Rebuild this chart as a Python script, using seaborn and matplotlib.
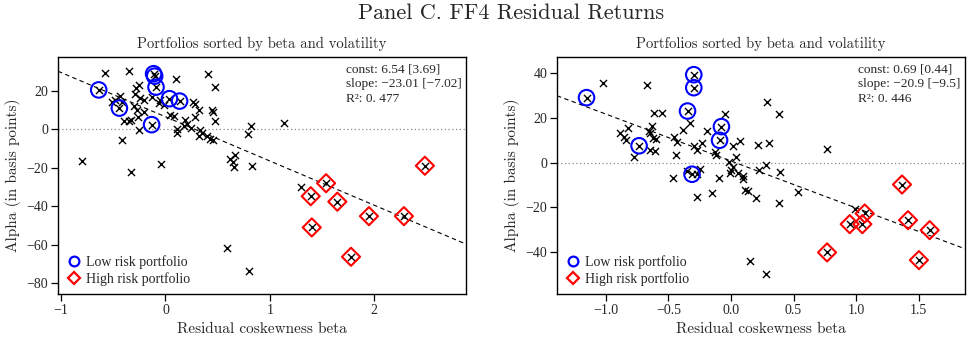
import numpy as np
import pandas as pd
import matplotlib
matplotlib.use("Agg")
import matplotlib.pyplot as plt
import seaborn as sns
from matplotlib.lines import Line2D

# ---------------- Left panel: residual coskewness beta vs alpha ----------------
left_x = [-0.583, -0.349, 0.103, 0.412, 0.477, -0.257, -0.279, -0.289, -0.241, -0.210,
          -0.439, -0.480, -0.512, -0.416, -0.129, -0.050, -0.066, -0.018, -0.299, -0.273,
          -0.210, -0.267, -0.327, -0.401, -0.353, -0.257, 0.046, 0.078, 0.110, 0.110,
          -0.416, 0.263, 0.285, 0.317, 0.445, 0.460, 0.285, 0.477, 0.189, 0.206,
          0.173, 0.244, 0.333, 0.349, 0.317, 0.397, 0.429, 0.455, 0.816, 0.788,
          1.137, 0.828, 1.297, -0.799, -0.327, -0.040, 0.620, 0.668, 0.646, 0.652,
          0.589, 0.805]
left_y = [29.35, 30.13, 26.13, 28.94, 22.18, 22.86, 21.66, 18.55, 16.47, 15.43,
          17.14, 15.43, 14.18, 14.18, 16.78, 15.43, 13.66, 12.47, 11.95, 9.87,
          8.99, 6.39, 4.68, 4.16, 4.16, -0.16, 7.27, 6.75, 0.16, -2.08,
          -5.35, 14.18, 12.99, 9.87, 10.23, 8.99, 6.23, 4.42, 4.68, 2.96,
          1.56, 0.52, -0.52, -1.92, -3.64, -3.38, -4.83, -5.71, 1.56, -2.44,
          3.48, -18.96, -29.87, -16.62, -22.34, -18.18, -15.22, -13.51, -16.99, -19.58,
          -61.97, -73.60]
left_low_x = [-0.640, -0.442, -0.114, -0.104, -0.091, -0.133, 0.038, 0.135]
left_low_y = [20.52, 11.06, 28.94, 27.69, 21.97, 2.44, 15.95, 14.70]
left_high_x = [2.486, 1.539, 1.392, 1.647, 1.950, 2.285, 1.402, 1.778]
left_high_y = [-18.96, -28.05, -34.81, -37.66, -45.19, -45.19, -51.06, -66.34]
left_const, left_const_t = 6.54, 3.69
left_slope, left_slope_t = -23.01, -7.02
left_r2 = "0. 477"
left_xticks = [-1, 0, 1, 2]
left_xticklabels = ["\u22121", "0", "1", "2"]
left_yticks = [-80, -60, -40, -20, 0, 20]
left_yticklabels = ["\u221280", "\u221260", "\u221240", "\u221220", "0", "20"]

# ---------------- Right panel ----------------
right_x = [-1.022, -0.669, -0.613, -0.553, -0.820, -0.888, -0.856, -0.836, -0.776, -0.654,
           -0.649, -0.629, -0.622, -0.601, -0.649, -0.609, -0.457, -0.433, -0.441, -0.387,
           -0.329, -0.295, -0.273, -0.228, -0.191, -0.129, -0.121, -0.050, 0.014, 0.070,
           0.220, 0.304, 0.292, 0.383, 0.768, 0.044, -0.015, 0.284, 0.224, 0.390,
           0.004, 0.017, 0.057, 0.097, 0.098, -0.010, 0.110, 0.137, 0.198, 0.536,
           0.384, 0.154, 0.284, 0.989, -0.461, -0.355, -0.244, -0.271, -0.148, -0.093,
           -0.275]
right_y = [35.56, 34.49, 22.22, 22.22, 15.24, 13.16, 11.38, 10.22, 2.36, 13.91,
           13.02, 16.36, 11.11, 10.36, 5.60, 5.02, 11.38, 9.33, 3.24, 14.36,
           17.69, 7.24, 5.69, 8.89, 14.22, 4.71, 3.24, 21.78, 7.47, 9.69,
           7.91, 8.71, 26.93, 21.47, 6.22, 2.49, 0.13, -0.98, -3.20, -4.31,
           -3.42, -2.09, -4.76, -6.09, -7.20, -4.53, -12.31, -12.62, -15.73, -13.07,
           -18.09, -43.87, -49.64, -20.89, -6.98, -3.64, -2.67, -15.11, -13.51, -6.98,
           -4.89]
right_low_x = [-1.154, -0.297, -0.297, -0.347, -0.734, -0.076, -0.091, -0.311]
right_low_y = [28.89, 39.11, 33.33, 22.93, 7.47, 16.00, 9.91, -5.20]
right_high_x = [1.367, 1.069, 0.949, 1.050, 1.415, 1.588, 0.768, 1.502]
right_high_y = [-9.78, -22.67, -27.42, -27.42, -25.64, -30.09, -40.00, -43.42]
right_const, right_const_t = 0.69, 0.44
right_slope, right_slope_t = -20.9, -9.5
right_r2 = "0. 446"
right_xticks = [-1.0, -0.5, 0.0, 0.5, 1.0, 1.5]
right_xticklabels = ["\u22121.0", "\u22120.5", "0.0", "0.5", "1.0", "1.5"]
right_yticks = [-40, -20, 0, 20, 40]
right_yticklabels = ["\u221240", "\u221220", "0", "20", "40"]

panel_title = "Portfolios sorted by beta and volatility"
fig_title = "Panel C. FF4 Residual Returns"
x_label = "Residual coskewness beta"
y_label = "Alpha (in basis points)"

sns.set_style("ticks")
plt.rcParams["font.family"] = ["Liberation Serif", "DejaVu Serif"]
CM = ["cmr10", "DejaVu Serif"]
TIMES = ["Liberation Serif", "DejaVu Serif"]


def fmt(v):
    return f"{v}".replace("-", "\u2212")


def draw_panel(ax, xs, ys, lx, ly, hx, hy, const, const_t, slope, slope_t, r2,
               xlim, ylim, xticks, xticklabels, yticks, yticklabels, text_x):
    ax.set_xlim(*xlim)
    ax.set_ylim(*ylim)
    ax.axhline(0, color="#888888", ls=(0, (1, 2)), lw=0.9, zorder=1)
    grid = np.array(xlim)
    sns.lineplot(x=grid, y=const + slope * grid, ax=ax, color="black", lw=0.8,
                 ls=(0, (4, 3)), zorder=2)
    all_x = list(xs) + list(lx) + list(hx)
    all_y = list(ys) + list(ly) + list(hy)
    df = pd.DataFrame({"beta": all_x, "alpha": all_y})
    sns.scatterplot(data=df, x="beta", y="alpha", ax=ax, marker="x", color="black",
                    s=26, linewidth=1.0, zorder=3)
    sns.scatterplot(x=lx, y=ly, ax=ax, marker="o", s=125, facecolor="none",
                    edgecolor="blue", linewidth=1.5, zorder=4)
    sns.scatterplot(x=hx, y=hy, ax=ax, marker="D", s=85, facecolor="none",
                    edgecolor="red", linewidth=1.5, zorder=4)
    ax.set_xticks(xticks)
    ax.set_xticklabels(xticklabels, fontfamily=TIMES, fontsize=10)
    ax.set_yticks(yticks)
    ax.set_yticklabels(yticklabels, fontfamily=TIMES, fontsize=10)
    ax.tick_params(direction="out", length=5, width=0.9, color="black", pad=2)
    for sp in ax.spines.values():
        sp.set_visible(True)
        sp.set_linewidth(1.0)
        sp.set_color("black")
    ax.set_xlabel(x_label, fontfamily=CM, fontsize=11, labelpad=4)
    ax.set_ylabel(y_label, fontfamily=CM, fontsize=11, labelpad=4)
    ax.set_title(panel_title, fontfamily=CM, fontsize=10.5, pad=6)
    txt = (f"const: {fmt(const)} [{fmt(const_t)}]\n"
           f"slope: {fmt(slope)} [{fmt(slope_t)}]\n"
           f"R\u00b2: {r2}")
    ax.text(text_x, 0.97, txt, transform=ax.transAxes, ha="left", va="top",
            fontfamily=TIMES, fontsize=9.6, linespacing=1.3)
    handles = [
        Line2D([], [], marker="o", ls="none", mfc="none", mec="blue", mew=1.6, ms=7),
        Line2D([], [], marker="D", ls="none", mfc="none", mec="red", mew=1.6, ms=6),
    ]
    ax.legend(handles, ["Low risk portfolio", "High risk portfolio"], loc="lower left",
              frameon=False, prop={"family": TIMES, "size": 10}, handletextpad=0.3,
              handlelength=1.1, borderaxespad=0.3, labelspacing=0.2,
              borderpad=0.3)


fig = plt.figure(figsize=(9.67, 3.48), dpi=100)
ax_l = fig.add_axes([0.0600, 0.1552, 0.4219, 0.6824])
ax_r = fig.add_axes([0.5760, 0.1552, 0.4219, 0.6824])

draw_panel(ax_l, left_x, left_y, left_low_x, left_low_y, left_high_x, left_high_y,
           left_const, left_const_t, left_slope, left_slope_t, left_r2,
           (-1.03, 2.88), (-85.7, 37.9), left_xticks, left_xticklabels,
           left_yticks, left_yticklabels, 0.706)
draw_panel(ax_r, right_x, right_y, right_low_x, right_low_y, right_high_x, right_high_y,
           right_const, right_const_t, right_slope, right_slope_t, right_r2,
           (-1.39, 1.87), (-58.5, 47.2), right_xticks, right_xticklabels,
           right_yticks, right_yticklabels, 0.738)

fig.text(0.528, 0.962, fig_title, ha="center", va="center", fontfamily=CM, fontsize=16)

fig.savefig("out.png", dpi=100)
